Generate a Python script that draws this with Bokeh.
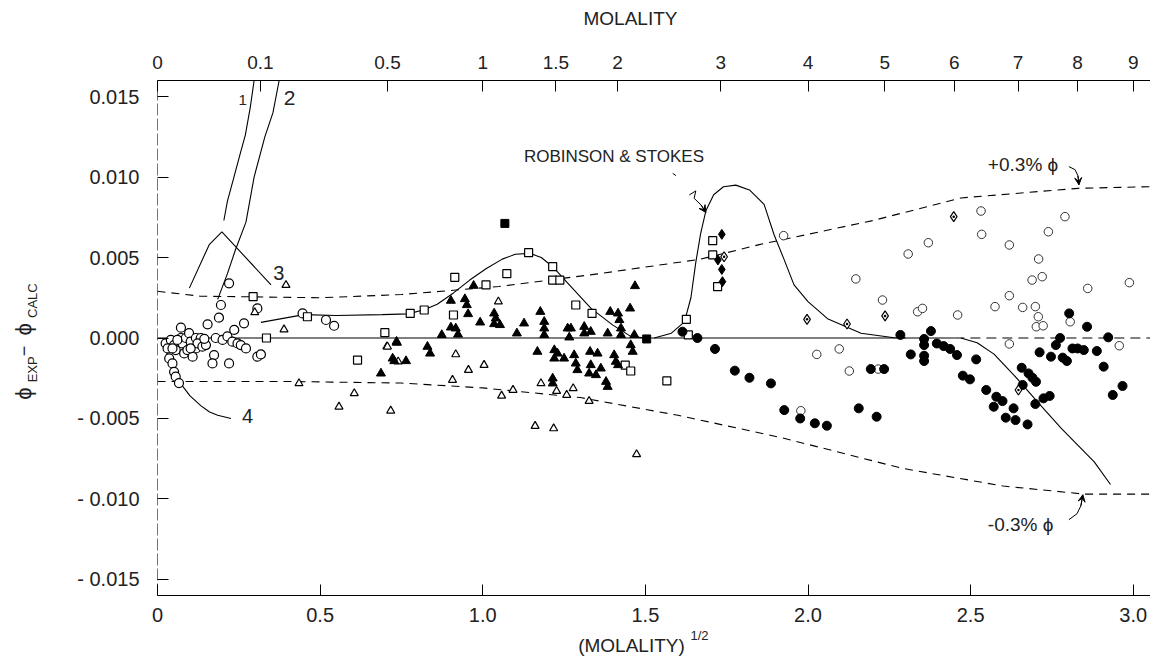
import math
from bokeh.plotting import figure
from bokeh.layouts import column, row
from bokeh.models import LinearAxis, FixedTicker, Label, Range1d, Arrow, VeeHead
from bokeh.core.properties import value
from bokeh.embed import file_html
from bokeh.resources import INLINE

FONT = "Liberation Sans"
TXT = "#222222"

# ---------------- data ----------------
# open circles (low molality)
circ_lo_x = [0.025, 0.041, 0.051, 0.031, 0.056, 0.072, 0.072, 0.077, 0.087, 0.097, 0.102, 0.082, 0.092,
             0.108, 0.118, 0.118, 0.133, 0.123, 0.138, 0.149, 0.154, 0.179, 0.174, 0.169, 0.189, 0.195,
             0.200, 0.215, 0.220, 0.220, 0.236, 0.230, 0.246, 0.256, 0.266, 0.272, 0.307, 0.318, 0.307,
             0.446, 0.518, 0.543, 0.036, 0.046, 0.051, 0.056, 0.066, 0.046, 0.061, 0.102, 0.144]
circ_lo_y = [-0.00034, -0.00012, -0.00044, -0.00065, -0.00075, 0.00064, 0.0, -0.00034, 0.0, 0.0003, -0.00023,
             -0.00096, -0.00075, -0.00116, -0.00065, 0.0, 0.0, -0.00034, -0.00054, -0.00044, 0.00085, 0.0,
             -0.00106, -0.00158, 0.00126, 0.00205, -0.00012, 0.0001, 0.0034, -0.00158, 0.0005, -0.00023,
             -0.00034, -0.00044, 0.00091, -0.00065, -0.00116, -0.00102, 0.00184, 0.00153, 0.00112, 0.00076,
             -0.00127, -0.00158, -0.0021, -0.0024, -0.0028, -0.00065, -0.00012, -0.00065, -0.00005]
# open circles (high molality)
circ_hi_x = [1.925, 2.027, 2.096, 2.127, 2.147, 2.216, 2.229, 1.978, 2.308, 2.337, 2.352, 2.370, 2.460,
             2.532, 2.534, 2.575, 2.619, 2.619, 2.619, 2.660, 2.689, 2.720, 2.709, 2.699, 2.708, 2.702,
             2.723, 2.739, 2.790, 2.806, 2.860, 2.957, 2.988]
circ_hi_y = [0.00636, -0.00102, -0.00068, -0.00205, 0.00367, -0.00193, 0.00236, -0.00452, 0.00522, 0.00163,
             0.00184, 0.00592, 0.00143, 0.00789, 0.00644, 0.00195, 0.00578, 0.00263, -0.00037, 0.0019,
             0.0036, 0.00381, 0.00491, 0.00195, 0.00132, 0.0007, 0.00076, 0.0066, 0.00754, 0.00101,
             0.00308, -0.00048, 0.00344]
# filled circles
dot_x = [1.614, 1.660, 1.714, 1.775, 1.820, 1.886, 1.927, 1.976, 2.021, 2.058, 2.156, 2.211, 2.193, 2.234,
         2.284, 2.316, 2.357, 2.357, 2.357, 2.357, 2.378, 2.396, 2.417, 2.437, 2.458, 2.517, 2.476, 2.498,
         2.548, 2.579, 2.598, 2.571, 2.608, 2.638, 2.675, 2.632, 2.657, 2.678, 2.690, 2.701, 2.660, 2.699,
         2.724, 2.743, 2.712, 2.747, 2.762, 2.775, 2.783, 2.796, 2.803, 2.813, 2.829, 2.848, 2.858, 2.888,
         2.909, 2.923, 2.937, 2.967]
dot_y = [0.00039, 0.0, -0.00068, -0.00203, -0.00247, -0.00282, -0.00448, -0.005, -0.0053, -0.00545,
         -0.00437, -0.00489, -0.00193, -0.00193, 0.00019, -0.00102, -0.00006, -0.00044, -0.0011, -0.00143,
         0.00043, -0.00034, -0.0005, -0.00068, -0.00106, -0.00133, -0.00234, -0.00257, -0.00323, -0.00365,
         -0.00392, -0.00427, -0.00495, -0.0051, -0.00537, -0.00437, -0.00185, -0.0022, -0.00247, -0.00272,
         -0.00292, -0.0041, -0.00375, -0.0036, -0.00089, -0.00116, -0.00044, 0.0, -0.00122, -0.00143,
         0.00153, -0.00065, -0.00065, -0.00075, 0.0007, -0.00081, -0.00178, 0.00004, -0.00354, -0.00298]
# open squares
sq_x = [0.294, 0.335, 0.461, 0.615, 0.699, 0.777, 0.820, 0.914, 0.910, 1.010, 1.074, 1.141, 1.215, 1.215,
        1.237, 1.286, 1.336, 1.438, 1.455, 1.566, 1.626, 1.632, 1.707, 1.707, 1.722]
sq_y = [0.00257, 0.0, 0.00132, -0.00137, 0.00033, 0.00153, 0.00174, 0.00377, 0.00143, 0.0033, 0.004, 0.0053,
        0.00443, 0.0036, 0.0036, 0.00205, 0.00153, -0.00168, -0.00205, -0.00267, 0.00116, 0.00019, 0.00605,
        0.00516, 0.00319]
# filled squares
fsq_x = [1.068, 1.504]
fsq_y = [0.00712, -0.00006]
# filled diamonds
fdia_x = [1.735, 1.723, 1.735, 1.737]
fdia_y = [0.00644, 0.00485, 0.00426, 0.0035]
# open diamonds
odia_x = [1.742, 1.997, 2.120, 2.237, 2.448, 2.647]
odia_y = [0.00505, 0.00116, 0.00087, 0.00137, 0.00754, -0.00323]
# filled triangles
ftri_x = [0.902, 0.945, 0.951, 0.955, 0.972, 0.902, 0.917, 0.924, 0.992, 1.035, 1.040, 1.035, 1.053, 1.127,
          1.105, 0.874, 1.177, 1.189, 1.189, 1.189, 1.168, 1.220, 1.220, 1.230, 1.250, 1.215, 1.215, 1.261,
          1.271, 1.266, 1.281, 1.286, 1.291, 1.312, 1.312, 1.332, 1.330, 1.353, 1.332, 1.327, 1.348, 1.363,
          1.384, 1.392, 1.416, 1.420, 1.425, 1.425, 1.404, 1.409, 1.416, 1.379, 1.384, 1.453, 1.468, 1.466,
          1.455, 1.461, 0.830, 0.838, 0.764, 0.728, 0.736, 0.687, 0.735, 0.723]
ftri_y = [0.00232, 0.00242, 0.00205, 0.00149, 0.00325, 0.00066, 0.0006, 0.00022, 0.00097, 0.00153, 0.00122,
          0.00087, 0.00081, 0.00091, 0.00029, 0.00019, 0.00163, 0.00101, 0.0006, 0.00019, -0.00085, -0.00075,
          -0.00127, -0.00096, -0.00127, -0.00251, -0.00282, 0.0006, 0.0006, 0.00004, -0.00106, -0.00158,
          -0.00199, 0.0007, 0.00029, 0.00039, -0.00085, -0.00096, -0.00168, -0.0022, -0.0023, -0.00189,
          0.00029, 0.00163, 0.00153, 0.00112, 0.0006, 0.00019, -0.00106, -0.00147, -0.00168, -0.00272,
          -0.00303, 0.00184, 0.00323, 0.00019, -0.00044, -0.00085, -0.00054, -0.00096, -0.00143, -0.00143,
          -0.00029, -0.0022, -0.00023, -0.00127]
# open triangles
otri_x = [0.705, 0.740, 0.917, 0.956, 1.004, 0.907, 0.717, 1.048, 1.058, 1.093, 1.179, 1.227, 1.258, 1.278,
          1.327, 1.161, 1.218, 1.473, 0.395, 0.389, 0.435, 0.558, 0.605, 0.707, 0.299]
otri_y = [-0.00054, -0.00147, -0.00102, -0.00199, -0.00168, -0.00261, -0.00452, 0.00226, -0.00359, -0.00323,
          -0.00282, -0.0033, -0.00354, -0.00313, -0.00392, -0.00547, -0.00562, -0.00723, 0.00329, 0.00053,
          -0.00282, -0.00427, -0.00344, -0.00054, 0.00159]
# inverted triangles
itri_x = [0.218, 0.333, 0.377, 0.416, 0.536, 0.603, 0.666, 0.846, 1.048]
itri_y = [0.00381, 0.00101, -0.00081, -0.00127, -0.00282, -0.00323, -0.00313, 0.00019, 0.00091]

# curves
c1_x = [0.204, 0.215, 0.235, 0.255, 0.270, 0.285, 0.297]
c1_y = [0.0073, 0.0085, 0.0100, 0.0115, 0.0126, 0.0143, 0.0160]
c2_x = [0.185, 0.215, 0.240, 0.272, 0.297, 0.330, 0.355, 0.374]
c2_y = [0.0024, 0.0040, 0.0055, 0.0072, 0.0100, 0.0125, 0.0140, 0.0160]
c3_x = [0.098, 0.159, 0.198, 0.349]
c3_y = [0.0031, 0.0058, 0.0066, 0.0033]
c4_x = [0.020, 0.036, 0.050, 0.070, 0.100, 0.133, 0.160, 0.185, 0.226]
c4_y = [-0.0005, -0.0013, -0.0020, -0.0028, -0.0036, -0.0042, -0.0046, -0.0048, -0.0050]
up_x = [0.0, 0.13, 0.50, 0.75, 1.05, 1.36, 1.67, 1.85, 2.20, 2.47, 2.83, 3.053]
up_y = [0.0029, 0.0026, 0.0025, 0.0027, 0.0032, 0.0040, 0.0049, 0.0058, 0.0073, 0.0087, 0.0093, 0.0094]
lo_x = [0.0, 0.40, 0.75, 1.00, 1.30, 1.60, 1.92, 2.29, 2.60, 2.85, 3.053]
lo_y = [-0.0027, -0.0027, -0.0028, -0.0031, -0.0037, -0.0048, -0.0062, -0.0081, -0.0092, -0.0097, -0.0097]
rsA_x = [0.318, 0.45, 0.55, 0.69, 0.77, 0.82, 0.86, 0.91, 0.96, 1.01, 1.06, 1.10, 1.145, 1.18, 1.215,
         1.262, 1.333, 1.40, 1.455, 1.50]
rsA_y = [0.00097, 0.00145, 0.0014, 0.00145, 0.0015, 0.00176, 0.0021, 0.0028, 0.0036, 0.0043, 0.0049, 0.0052,
         0.00526, 0.0050, 0.00443, 0.0034, 0.00184, 0.0008, 0.0001, 0.0]
rsB_x = [1.527, 1.58, 1.62, 1.64, 1.655, 1.67, 1.686, 1.71, 1.74, 1.778, 1.82, 1.865, 1.896, 1.926, 1.957,
         2.0, 2.06, 2.163, 2.265, 2.30]
rsB_y = [0.0, 0.0003, 0.001, 0.0025, 0.0047, 0.0065, 0.0079, 0.0089, 0.0094, 0.0095, 0.0092, 0.0083, 0.0064,
         0.0049, 0.0033, 0.00226, 0.0012, 0.0003, 0.00002, 0.0]
rsC_x = [2.47, 2.52, 2.572, 2.633, 2.707, 2.778, 2.88, 2.93]
rsC_y = [0.0, -0.0003, -0.001, -0.0023, -0.004, -0.0056, -0.0077, -0.0091]
zero_solid_x = [0.0, 2.45]
zero_dash_x = [2.45, 3.053]

# axes ticks
bottom_ticks = [0.0, 0.5, 1.0, 1.5, 2.0, 2.5, 3.0]
bottom_labels = ["0", "0.5", "1.0", "1.5", "2.0", "2.5", "3.0"]
left_ticks = [-0.015, -0.010, -0.005, 0.0, 0.005, 0.010, 0.015]
left_labels = ["- 0.015", "- 0.010", "- 0.005", "0.000", "0.005", "0.010", "0.015"]
top_molal = [0, 0.1, 0.5, 1, 1.5, 2, 3, 4, 5, 6, 7, 8, 9]
top_labels = ["0", "0.1", "0.5", "1", "1.5", "2", "3", "4", "5", "6", "7", "8", "9"]

# y-axis title pieces (page pixel positions inside the left strip)
ylab_text = ["\u03d5", "EXP", "\u2212", "\u03d5", "CALC"]
ylab_x = [23, 32, 23, 23, 32]
ylab_y = [403, 383, 353, 329, 309]
ylab_size = ["22px", "13px", "18px", "22px", "13px"]

TOP_H = 36
YLAB_W = 45
MAIN_TOP = 44
MAIN_BOTTOM = 33
FRAME_W = 993
FRAME_H = 515
PAGE_W = 1150
MAIN_END = TOP_H + MAIN_TOP + FRAME_H + MAIN_BOTTOM
BOT_H = 661 - MAIN_END

# ---------------- main figure ----------------
p = figure(frame_width=FRAME_W, frame_height=FRAME_H, x_range=Range1d(0, 3.053), y_range=Range1d(-0.016, 0.016),
           output_backend="svg", toolbar_location=None, min_border_left=157 - YLAB_W, min_border_right=0,
           min_border_top=MAIN_TOP, min_border_bottom=MAIN_BOTTOM, x_axis_location=None, y_axis_location=None,
           title=None)
p.grid.visible = False
p.outline_line_color = None
p.background_fill_color = "white"
p.border_fill_color = "white"


def style_axis(ax, size="20px"):
    ax.major_tick_in = 11
    ax.major_tick_out = 0
    ax.minor_tick_in = 0
    ax.minor_tick_out = 0
    ax.axis_line_color = "black"
    ax.major_tick_line_color = "black"
    ax.major_label_text_font = FONT
    ax.major_label_text_font_size = size
    ax.major_label_text_color = TXT


bax = LinearAxis(ticker=FixedTicker(ticks=bottom_ticks),
                 major_label_overrides={t: l for t, l in zip(bottom_ticks, bottom_labels)})
style_axis(bax)
bax.major_label_standoff = 12
p.add_layout(bax, "below")

lax = LinearAxis(ticker=FixedTicker(ticks=left_ticks),
                 major_label_overrides={t: l for t, l in zip(left_ticks, left_labels)})
style_axis(lax)
lax.major_label_standoff = 18
lax.axis_line_alpha = 0.55
lax.axis_line_dash = "12 3"
p.add_layout(lax, "left")

top_pos = [math.sqrt(m) for m in top_molal]
tax = LinearAxis(ticker=FixedTicker(ticks=top_pos),
                 major_label_overrides={t: l for t, l in zip(top_pos, top_labels)})
style_axis(tax, "19px")
tax.major_label_standoff = 12
p.add_layout(tax, "above")

# lines
LW = 1.1
p.line(zero_solid_x, [0, 0], line_color="black", line_width=LW)
p.line(zero_dash_x, [0, 0], line_color="black", line_width=LW, line_dash="10 6")
p.line(up_x, up_y, line_color="black", line_width=LW, line_dash="8 6")
p.line(lo_x, lo_y, line_color="black", line_width=LW, line_dash="8 6")
for xs, ys in [(c1_x, c1_y), (c2_x, c2_y), (c3_x, c3_y), (c4_x, c4_y),
               (rsA_x, rsA_y), (rsB_x, rsB_y), (rsC_x, rsC_y)]:
    p.line(xs, ys, line_color="black", line_width=LW)

# arrows
plus_arrow_x = [2.802, 2.821, 2.830, 2.833]
plus_arrow_y = [0.01065, 0.01046, 0.01008, 0.00952]
minus_arrow_x = [2.802, 2.827, 2.839, 2.845]
minus_arrow_y = [-0.01129, -0.01092, -0.01042, -0.00974]
rs_arrow_x = [1.635, 1.655, 1.650, 1.671, 1.686]
rs_arrow_y = [0.00889, 0.00914, 0.00868, 0.00827, 0.0078]
rs_tick_x = [1.584, 1.594]
rs_tick_y = [0.01023, 0.01009]
for xs, ys in [(plus_arrow_x, plus_arrow_y), (minus_arrow_x, minus_arrow_y), (rs_arrow_x, rs_arrow_y)]:
    p.line(xs, ys, line_color="black", line_width=1)
    p.add_layout(Arrow(x_start=xs[-2], y_start=ys[-2], x_end=xs[-1], y_end=ys[-1],
                       end=VeeHead(size=7, line_color="black", line_width=1), line_width=1))
p.line(rs_tick_x, rs_tick_y, line_color="black", line_width=1)

# markers
MLW = 1.2
p.scatter(circ_lo_x, circ_lo_y, marker="circle", size=9, fill_color="white", line_color="black", line_width=MLW)
p.scatter(circ_hi_x, circ_hi_y, marker="circle", size=8.5, fill_color="white", line_color="#333333", line_width=1.0)
p.scatter(sq_x, sq_y, marker="square", size=8, fill_color="white", line_color="black", line_width=MLW)
p.scatter(fsq_x, fsq_y, marker="square", size=8, fill_color="black", line_color="black")
p.scatter(otri_x, otri_y, marker="triangle", size=8, fill_color="white", line_color="black", line_width=MLW)
p.scatter(ftri_x, ftri_y, marker="triangle", size=9, fill_color="black", line_color="black")
p.scatter(itri_x, itri_y, marker="inverted_triangle_dot", size=9, fill_color="white", line_color="black",
          line_width=MLW)
p.scatter(dot_x, dot_y, marker="circle", size=9, fill_color="black", line_color="black")
p.scatter(fdia_x, fdia_y, marker="diamond", size=10, fill_color="black", line_color="black")
p.scatter(odia_x, odia_y, marker="diamond_dot", size=10, fill_color="white", line_color="black",
          line_width=MLW)


def lab(x, y, t, size, align="left", baseline="middle"):
    p.add_layout(Label(x=x, y=y, text=t, text_font=FONT, text_font_size=size, text_color=TXT,
                       text_align=align, text_baseline=baseline))


lab(1.1265, 0.01127, "ROBINSON & STOKES", "17px")
lab(2.553, 0.01077, "+0.3% \u03d5", "19px")
lab(2.553, -0.0116, "-0.3% \u03d5", "19px")
lab(0.262, 0.0148, "1", "15px", align="center")
lab(0.406, 0.0149, "2", "21px", align="center")
lab(0.373, 0.00406, "3", "20px", align="center")
lab(0.277, -0.00483, "4", "20px", align="center")


def strip(width, height, x0, y0):
    f = figure(width=width, height=height, x_range=Range1d(x0, x0 + width), y_range=Range1d(y0 + height, y0),
               output_backend="svg", toolbar_location=None, min_border=0, x_axis_location=None,
               y_axis_location=None, title=None)
    f.grid.visible = False
    f.outline_line_color = None
    f.background_fill_color = "white"
    f.border_fill_color = "white"
    return f


# top title strip
top_fig = strip(PAGE_W, TOP_H, 0, 0)
top_fig.text(x=[630], y=[18], text=["MOLALITY"], text_font=value(FONT), text_font_size=value("19px"),
             text_color=TXT, text_align="center", text_baseline="middle")

# y label strip
ylab_fig = strip(YLAB_W, MAIN_END - TOP_H, 0, TOP_H)
for t, xx, yy, sz in zip(ylab_text, ylab_x, ylab_y, ylab_size):
    ylab_fig.text(x=[xx], y=[yy], text=[t], text_font=value(FONT), text_font_size=value(sz),
                  text_color=TXT, text_align="left", text_baseline="middle", angle=math.pi / 2)

# bottom title strip
bot_fig = strip(PAGE_W, BOT_H, 0, MAIN_END)
bot_fig.text(x=[631], y=[645], text=["(MOLALITY)"], text_font=value(FONT), text_font_size=value("19px"),
             text_color=TXT, text_align="center", text_baseline="middle")
bot_fig.text(x=[690], y=[635], text=["1/2"], text_font=value(FONT), text_font_size=value("13px"),
             text_color=TXT, text_align="left", text_baseline="middle")

layout = column(top_fig, row(ylab_fig, p), bot_fig)
open("out.html", "w").write(file_html(layout, INLINE))
